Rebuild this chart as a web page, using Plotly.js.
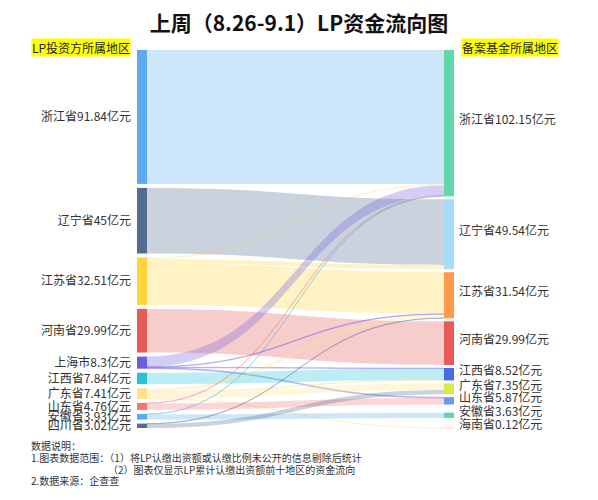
<!DOCTYPE html>
<html>
<head>
<meta charset="utf-8">
<script src="https://cdn.plot.ly/plotly-3.0.1.min.js"></script>
<style>
  html, body { margin: 0; padding: 0; background: #fff; }
  #chart { width: 598px; height: 500px; }
</style>
</head>
<body>
<div id="chart"></div>
<script>
// ---------- data ----------
const leftNames = ['浙江省', '辽宁省', '江苏省', '河南省', '上海市', '江西省', '广东省', '山东省', '安徽省', '四川省'];
const leftValues = [91.84, 45, 32.51, 29.99, 8.3, 7.84, 7.41, 4.76, 3.93, 3.02];
const rightNames = ['浙江省', '辽宁省', '江苏省', '河南省', '江西省', '广东省', '山东省', '安徽省', '海南省'];
const rightValues = [102.15, 49.54, 31.54, 29.99, 8.52, 7.35, 5.87, 3.63, 0.12];

// flows: index into leftNames -> index into rightNames
const flowSource = [0, 1, 2, 2, 2, 3, 4, 4, 4, 4, 5, 6, 6, 6, 6, 7, 7, 8, 8, 9, 9];
const flowTarget = [0, 1, 0, 1, 2, 3, 0, 2, 4, 6, 4, 2, 4, 5, 8, 0, 6, 0, 7, 2, 5];
const flowValue  = [91.84, 45, 1.0, 3.0, 28.51, 29.99, 6.9, 0.4, 0.4, 0.6, 7.84, 2.45, 0.29, 4.55, 0.12, 0.3, 4.46, 0.3, 3.63, 0.22, 2.8];

const leftColors  = ['#5AABF0', '#516B91', '#FFD43B', '#E65A57', '#6C5CE0', '#26C2DA', '#FFE38A', '#F57373', '#5AABF0', '#516B91'];
const rightColors = ['#62D8AA', '#A6DCF8', '#FF9A4A', '#E65A57', '#4A6BE3', '#D6EB4E', '#6A9BEA', '#62D8AA', '#FFB870'];

const titleText = '上周（8.26-9.1）LP资金流向图';
const leftHeader = 'LP投资方所属地区';
const rightHeader = '备案基金所属地区';
const notes = ['数据说明：', '1.图表数据范围：（1）将LP认缴出资额或认缴比例未公开的信息剔除后统计', '（2）图表仅显示LP累计认缴出资额前十地区的资金流向', '2.数据来源：企查查'];

// ---------- layout geometry ----------
const W = 598, Hpage = 500;
const domX = [137, 454];   // px
const domY = [50, 428];    // px from top
const thick = 10, pad = 4, rightGap = 3;
const domW = domX[1] - domX[0], domH = domY[1] - domY[0];

function hexA(h, a) {
  const r = parseInt(h.slice(1, 3), 16), g = parseInt(h.slice(3, 5), 16), b = parseInt(h.slice(5, 7), 16);
  return 'rgba(' + r + ',' + g + ',' + b + ',' + a + ')';
}

const nL = leftNames.length;
const labels = leftNames.map((n, i) => n + leftValues[i] + '亿元')
  .concat(rightNames.map((n, i) => n + rightValues[i] + '亿元'));
const colors = leftColors.concat(rightColors);

// node sizes as the library computes them (sum of link values)
const outSum = leftNames.map((_, i) => flowValue.reduce((s, v, k) => s + (flowSource[k] === i ? v : 0), 0));
const inSum = rightNames.map((_, j) => flowValue.reduce((s, v, k) => s + (flowTarget[k] === j ? v : 0), 0));
const sum = a => a.reduce((s, v) => s + v, 0);
const ky = Math.min((domH - (outSum.length - 1) * pad) / sum(outSum), (domH - (inSum.length - 1) * pad) / sum(inSum));
function centers(vals, gaps) {
  let acc = 0; const out = [];
  vals.forEach((v, i) => { out.push((acc + v * ky / 2) / domH); acc += v * ky + (gaps[i] || 0); });
  return out;
}
// left column: even gaps; right column: tight gaps at top, remaining slack near the bottom
const leftGaps = outSum.slice(1).map(() => (domH - sum(outSum) * ky) / (outSum.length - 1));
const slackR = domH - sum(inSum) * ky - rightGap * (inSum.length - 3);
const rightGaps = inSum.slice(1).map((_, i) => i < inSum.length - 3 ? rightGap : (i === inSum.length - 3 ? slackR * 0.45 : slackR * 0.55));
const nodeY = centers(outSum, leftGaps).concat(centers(inSum, rightGaps));
const nodeX = leftNames.map(() => (thick / 2) / domW).concat(rightNames.map(() => 1 - (thick / 2) / domW));

const font = '"Noto Sans CJK SC", "Noto Sans", sans-serif';

const data = [{
  type: 'sankey',
  arrangement: 'fixed',
  domain: { x: [domX[0] / W, domX[1] / W], y: [1 - domY[1] / Hpage, 1 - domY[0] / Hpage] },
  hoverinfo: 'none',
  textfont: { family: font, size: 12, color: '#333', shadow: 'none' },
  node: {
    label: labels, color: colors, x: nodeX, y: nodeY,
    thickness: thick, pad: pad, line: { width: 0 }
  },
  link: {
    source: flowSource,
    target: flowTarget.map(t => t + nL),
    value: flowValue,
    color: flowSource.map(s => hexA(leftColors[s], 0.3)),
    line: { width: 0 }
  }
}];

const ann = [
  { text: leftHeader, x: 81 / W, y: 1 - 48 / Hpage, xanchor: 'center', bgcolor: '#FFFF00', font: { size: 12, color: '#222' } },
  { text: rightHeader, x: 510 / W, y: 1 - 48 / Hpage, xanchor: 'center', bgcolor: '#FFFF00', font: { size: 12, color: '#222' } },
  { text: notes[0], x: 30 / W, y: 1 - 445.5 / Hpage, xanchor: 'left', font: { size: 10, color: '#333' } },
  { text: notes[1], x: 30 / W, y: 1 - 457.5 / Hpage, xanchor: 'left', font: { size: 10, color: '#333' } },
  { text: notes[2], x: 107 / W, y: 1 - 469 / Hpage, xanchor: 'left', font: { size: 10, color: '#333' } },
  { text: notes[3], x: 30 / W, y: 1 - 480.5 / Hpage, xanchor: 'left', font: { size: 10, color: '#333' } }
].map(a => Object.assign({ xref: 'paper', yref: 'paper', showarrow: false, yanchor: 'middle', borderpad: 0 }, a,
  { font: Object.assign({ family: font }, a.font) }));

const layout = {
  width: W, height: Hpage,
  margin: { l: 0, r: 0, t: 0, b: 0 },
  paper_bgcolor: '#fff',
  font: { family: font },
  title: { text: titleText, x: 0.5, xanchor: 'center', y: 1 - 24 / Hpage, yanchor: 'middle', yref: 'container',
           font: { family: font, size: 21, color: '#111', weight: 'bold' } },
  annotations: ann
};

Plotly.newPlot('chart', data, layout, { staticPlot: true, displayModeBar: false }).then(function (gd) {
  // put left-column labels on the left of their nodes, right-column labels on the right
  gd.querySelectorAll('.sankey-node').forEach(function (g) {
    const t = g.querySelector('.node-label');
    if (!t) return;
    const d = g.__data__;
    const tr = t.getAttribute('transform') || '';
    const m = /translate\(\s*([-\d.e]+)[\s,]+([-\d.e]+)\s*\)/.exec(tr);
    const y = m ? parseFloat(m[2]) : 0;
    let isLeft;
    if (d && d.node && typeof d.node.pointNumber === 'number') isLeft = d.node.pointNumber < nL;
    else isLeft = (t.getAttribute('text-anchor') || t.style.textAnchor) !== 'end';
    const w = (d && d.visibleWidth) ? d.visibleWidth : thick;
    if (isLeft) {
      t.setAttribute('text-anchor', 'end'); t.style.textAnchor = 'end';
      t.setAttribute('transform', 'translate(-6,' + y + ')');
    } else {
      t.setAttribute('text-anchor', 'start'); t.style.textAnchor = 'start';
      t.setAttribute('transform', 'translate(' + (w + 5) + ',' + (y - 3) + ')');
    }
  });
});
</script>
</body>
</html>
